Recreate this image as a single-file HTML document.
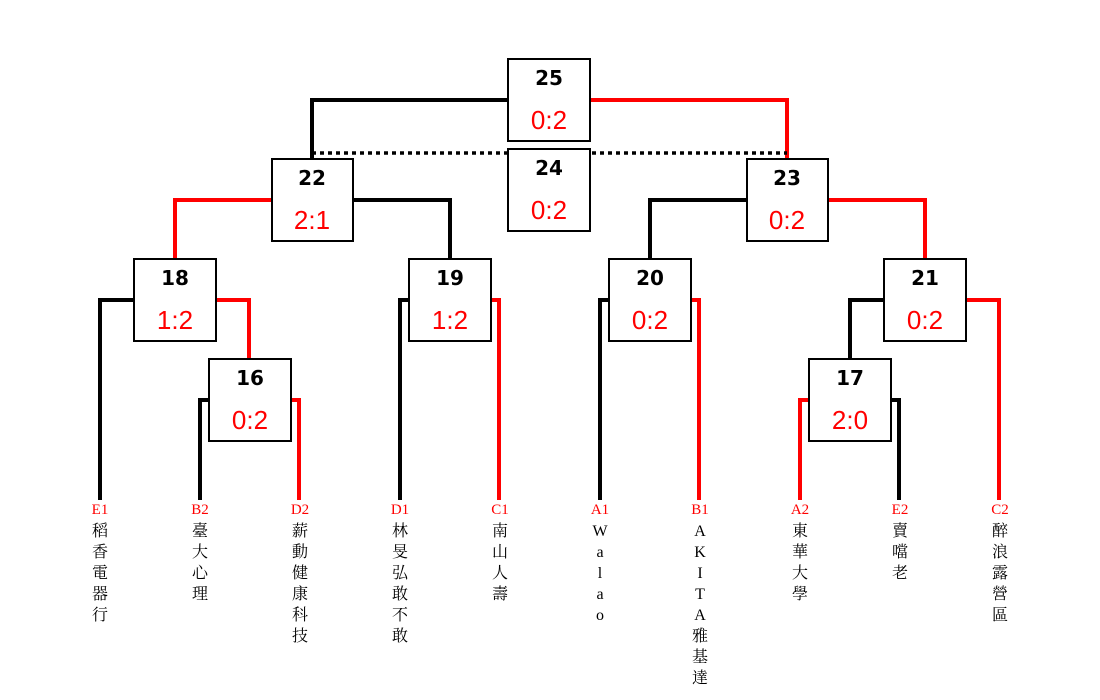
<!DOCTYPE html>
<html><head><meta charset="utf-8"><style>
html,body{margin:0;padding:0;background:#fff;}
svg{display:block;}
.n{font-family:"DejaVu Sans","Liberation Sans",sans-serif;font-weight:bold;font-size:20px;fill:#000;text-anchor:middle;}
.s{font-family:"Liberation Sans","DejaVu Sans",sans-serif;font-size:26px;fill:#f00;text-anchor:middle;}
.c{font-family:"Liberation Serif","Noto Serif CJK SC",serif;font-size:15px;fill:#f00;text-anchor:middle;}
.t{font-family:"Liberation Serif","Noto Serif CJK SC","Noto Sans CJK TC",serif;font-size:16px;fill:#000;text-anchor:middle;}
</style></head><body>
<svg width="1100" height="700" viewBox="0 0 1100 700" xmlns="http://www.w3.org/2000/svg">
<g fill="none" stroke-width="4" stroke-linejoin="miter" stroke-linecap="butt">
<polyline points="507,100 312,100 312,158" stroke="#000"/>
<polyline points="590,100 787,100 787,158" stroke="#f00"/>
<line x1="312" y1="153" x2="787" y2="153" stroke="#000" stroke-width="3.5" stroke-dasharray="4,4"/>
<polyline points="271,200 175,200 175,258" stroke="#f00"/>
<polyline points="353,200 450,200 450,258" stroke="#000"/>
<polyline points="746,200 650,200 650,258" stroke="#000"/>
<polyline points="828,200 925,200 925,258" stroke="#f00"/>
<polyline points="134,300 100,300 100,500" stroke="#000"/>
<polyline points="216,300 249,300 249,358" stroke="#f00"/>
<polyline points="208,400 200,400 200,500" stroke="#000"/>
<polyline points="291,400 299,400 299,500" stroke="#f00"/>
<polyline points="409,300 400,300 400,500" stroke="#000"/>
<polyline points="491,300 499,300 499,500" stroke="#f00"/>
<polyline points="609,300 600,300 600,500" stroke="#000"/>
<polyline points="691,300 699,300 699,500" stroke="#f00"/>
<polyline points="884,300 850,300 850,358" stroke="#000"/>
<polyline points="966,300 999,300 999,500" stroke="#f00"/>
<polyline points="809,400 800,400 800,500" stroke="#f00"/>
<polyline points="891,400 899,400 899,500" stroke="#000"/>
</g>
<g fill="#fff" stroke="#000" stroke-width="2">
<rect x="508" y="59" width="82" height="82"/>
<rect x="508" y="149" width="82" height="82"/>
<rect x="272" y="159" width="81" height="82"/>
<rect x="747" y="159" width="81" height="82"/>
<rect x="134" y="259" width="82" height="82"/>
<rect x="409" y="259" width="82" height="82"/>
<rect x="609" y="259" width="82" height="82"/>
<rect x="884" y="259" width="82" height="82"/>
<rect x="209" y="359" width="82" height="82"/>
<rect x="809" y="359" width="82" height="82"/>
</g>
<g>
<text class="n" x="549" y="85">25</text><text class="s" x="549" y="129">0:2</text>
<text class="n" x="549" y="175">24</text><text class="s" x="549" y="219">0:2</text>
<text class="n" x="312" y="185">22</text><text class="s" x="312" y="229">2:1</text>
<text class="n" x="787" y="185">23</text><text class="s" x="787" y="229">0:2</text>
<text class="n" x="175" y="285">18</text><text class="s" x="175" y="329">1:2</text>
<text class="n" x="450" y="285">19</text><text class="s" x="450" y="329">1:2</text>
<text class="n" x="650" y="285">20</text><text class="s" x="650" y="329">0:2</text>
<text class="n" x="925" y="285">21</text><text class="s" x="925" y="329">0:2</text>
<text class="n" x="250" y="385">16</text><text class="s" x="250" y="429">0:2</text>
<text class="n" x="850" y="385">17</text><text class="s" x="850" y="429">2:0</text>
</g>
<g>
<text class="c" x="100" y="514">E1</text>
<text class="c" x="200" y="514">B2</text>
<text class="c" x="300" y="514">D2</text>
<text class="c" x="400" y="514">D1</text>
<text class="c" x="500" y="514">C1</text>
<text class="c" x="600" y="514">A1</text>
<text class="c" x="700" y="514">B1</text>
<text class="c" x="800" y="514">A2</text>
<text class="c" x="900" y="514">E2</text>
<text class="c" x="1000" y="514">C2</text>
</g>
<g class="t">
<text class="t" x="100" y="536">稻</text><text class="t" x="100" y="557">香</text><text class="t" x="100" y="578">電</text><text class="t" x="100" y="599">器</text><text class="t" x="100" y="620">行</text>
<text class="t" x="200" y="536">臺</text><text class="t" x="200" y="557">大</text><text class="t" x="200" y="578">心</text><text class="t" x="200" y="599">理</text>
<text class="t" x="300" y="536">薪</text><text class="t" x="300" y="557">動</text><text class="t" x="300" y="578">健</text><text class="t" x="300" y="599">康</text><text class="t" x="300" y="620">科</text><text class="t" x="300" y="641">技</text>
<text class="t" x="400" y="536">林</text><text class="t" x="400" y="557">旻</text><text class="t" x="400" y="578">弘</text><text class="t" x="400" y="599">敢</text><text class="t" x="400" y="620">不</text><text class="t" x="400" y="641">敢</text>
<text class="t" x="500" y="536">南</text><text class="t" x="500" y="557">山</text><text class="t" x="500" y="578">人</text><text class="t" x="500" y="599">壽</text>
<text class="t" x="600" y="536">W</text><text class="t" x="600" y="557">a</text><text class="t" x="600" y="578">l</text><text class="t" x="600" y="599">a</text><text class="t" x="600" y="620">o</text>
<text class="t" x="700" y="536">A</text><text class="t" x="700" y="557">K</text><text class="t" x="700" y="578">I</text><text class="t" x="700" y="599">T</text><text class="t" x="700" y="620">A</text><text class="t" x="700" y="641">雅</text><text class="t" x="700" y="662">基</text><text class="t" x="700" y="683">達</text>
<text class="t" x="800" y="536">東</text><text class="t" x="800" y="557">華</text><text class="t" x="800" y="578">大</text><text class="t" x="800" y="599">學</text>
<text class="t" x="900" y="536">賣</text><text class="t" x="900" y="557">噹</text><text class="t" x="900" y="578">老</text>
<text class="t" x="1000" y="536">醉</text><text class="t" x="1000" y="557">浪</text><text class="t" x="1000" y="578">露</text><text class="t" x="1000" y="599">營</text><text class="t" x="1000" y="620">區</text>
</g>
</svg>
</body></html>
